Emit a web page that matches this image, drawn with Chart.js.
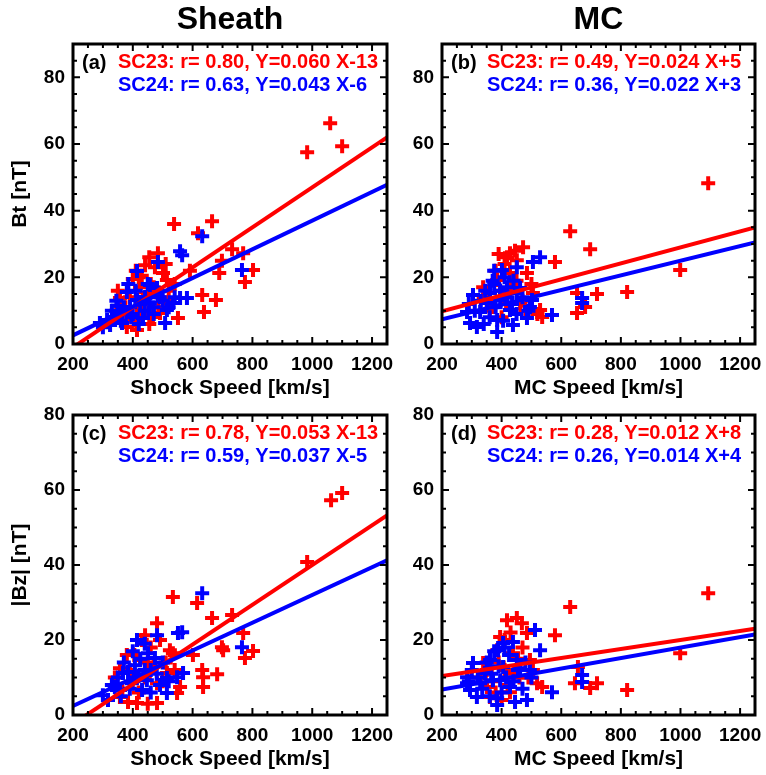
<!DOCTYPE html>
<html>
<head>
<meta charset="utf-8">
<title>Sheath / MC</title>
<script src="https://cdn.jsdelivr.net/npm/chart.js@4.4.1/dist/chart.umd.min.js"></script>
<style>
  html, body { margin: 0; padding: 0; background: #fff; }
  #wrap { position: relative; width: 766px; height: 775px; background: #fff; }
  #wrap canvas { position: absolute; }
</style>
</head>
<body>
<div id="wrap">
  <canvas id="panelA" width="400" height="402" style="left:0;top:0"></canvas>
  <canvas id="panelB" width="366" height="402" style="left:400px;top:0"></canvas>
  <canvas id="panelC" width="400" height="373" style="left:0;top:402px"></canvas>
  <canvas id="panelD" width="366" height="373" style="left:400px;top:402px"></canvas>
</div>
<script>
/* ===============================
   DATA
================================ */
const speedTicks = [200, 400, 600, 800, 1000, 1200];
const fieldTicks = [0, 20, 40, 60, 80];

// (a) Sheath Bt vs shock speed
const aRedX = [1060, 983, 1100, 538, 665, 618, 732, 769, 802, 775, 689, 698, 591, 632, 678, 638, 551, 484, 474, 441, 501, 514, 424, 357, 414, 380, 414, 467, 491, 524, 451, 400, 430, 460, 345, 395, 520, 485,
               350, 365, 390, 405, 420, 440, 455, 470, 495, 510, 455, 430, 375, 540, 410];
const aRedY = [66.2, 57.5, 59.3, 36, 36.8, 33.2, 28.4, 27.2, 22.2, 18.6, 21.3, 25, 22, 14.7, 13.2, 9.6, 7.8, 27.2, 23, 23.6, 21.3, 19.2, 17, 13.8, 11.1, 5.1, 4.2, 8.1, 9.3, 12.3, 15.3, 19.5, 20.5, 18, 10, 8, 16, 11,
               16, 9, 14, 7, 20, 12, 6, 17, 14, 24, 26, 9, 11, 18, 22];
const aBlueX = [632, 558, 565, 484, 414, 765, 380, 457, 481, 581, 558, 534, 314, 324, 364, 434, 508, 514, 391, 357, 414, 441, 290, 334, 457, 400, 470, 500, 350,
                300, 330, 345, 370, 395, 410, 425, 440, 450, 470, 490, 520, 540, 360, 420, 385];
const aBlueY = [32.3, 27.8, 26.6, 24.6, 21.9, 22.2, 15.6, 17.7, 16.8, 13.8, 13.8, 12.3, 7.2, 5.7, 6.3, 7.8, 6.3, 10.2, 11.1, 9.6, 13.2, 14.1, 6.3, 8.1, 12.3, 9, 11, 13, 11.5,
                5, 10, 13, 11, 8, 16, 12, 10, 18, 9, 14, 11, 14, 7, 6, 18];

// (b) MC Bt vs MC speed
const bRedX = [1093, 630, 697, 579, 999, 821, 720, 653, 653, 680, 428, 472, 451, 338, 385, 485, 505, 529, 536, 371, 405, 462, 428, 418, 440, 395, 350,
               340, 360, 380, 400, 410, 430, 450, 470, 480, 500, 415, 390, 445, 520];
const bRedY = [48.2, 33.8, 28.4, 24.6, 22.2, 15.6, 15, 15.3, 9.3, 11.1, 27.2, 29, 25.1, 17, 19.2, 21.3, 15.3, 10.2, 8.1, 11.1, 14.1, 12.3, 21.3, 26, 18, 16, 13,
               14, 10, 22, 8, 24, 16, 19, 13, 10, 18, 12, 27, 28, 9];
const bBlueX = [529, 505, 451, 401, 670, 670, 569, 304, 284, 294, 317, 385, 385, 438, 485, 361, 351, 418, 462, 395, 428, 495, 328, 451, 502, 375, 410, 440,
                290, 310, 330, 345, 360, 370, 380, 395, 405, 420, 435, 450, 470, 490, 340, 375];
const bBlueY = [26, 24.6, 23, 22.2, 13.8, 12.3, 8.7, 14.7, 9.6, 6.3, 5.1, 3.6, 7.2, 5.7, 7.8, 15.3, 12.3, 17, 16.8, 13.2, 10.2, 11.1, 9.6, 15.3, 13.2, 18, 20, 19,
                12, 10, 13, 16, 8, 19, 11, 16, 7, 14, 12, 9, 14, 10, 6, 22];

// (c) Sheath |Bz| vs shock speed
const cRedX = [1063, 1100, 983, 534, 615, 665, 732, 769, 802, 775, 698, 702, 601, 632, 635, 682, 635, 481, 441, 491, 524, 534, 357, 424, 414, 481, 384, 548, 558, 481, 514, 357, 400, 450,
               340, 365, 390, 405, 420, 440, 460, 470, 500, 510, 430, 380, 450, 540];
const cRedY = [57.3, 59.2, 40.8, 31.5, 29.9, 25.9, 26.7, 21.9, 17.1, 15.2, 18.1, 17.3, 16, 12, 10.1, 10.9, 7.5, 24.5, 21.3, 20, 17.3, 16.5, 12.5, 14.7, 3.2, 3.2, 3.5, 5.9, 7.5, 8.5, 11.2, 4.8, 9, 14,
               10, 7, 12, 16, 6, 10, 18, 13, 9, 14, 20, 16, 3, 12];
const cBlueX = [632, 565, 551, 481, 414, 765, 451, 474, 407, 367, 568, 548, 514, 300, 317, 357, 431, 514, 397, 447, 491, 340, 384, 420, 460,
                330, 350, 370, 390, 410, 425, 440, 460, 480, 500, 520, 400, 360, 440];
const cBlueY = [32.5, 22.1, 21.9, 21.3, 20, 18.1, 16.5, 15.2, 13.3, 11.2, 11.2, 10.1, 9.9, 5.3, 4, 6.7, 6.7, 5.9, 8.5, 9.3, 8, 7.5, 11.5, 10.5, 12,
                8, 10, 14, 7, 10, 15, 12, 6, 11, 14, 9, 17, 5, 19];

// (d) MC |Bz| vs MC speed
const dRedX = [1093, 630, 579, 999, 821, 646, 697, 720, 656, 418, 451, 468, 485, 395, 385, 338, 438, 495, 519, 536, 361, 428, 351, 410, 460,
               330, 350, 370, 390, 410, 420, 440, 455, 470, 490, 505, 430, 380, 400];
const dRedY = [32.5, 28.8, 21.3, 16.5, 6.7, 8.5, 7.2, 8.5, 12.8, 25.3, 25.9, 24.5, 21.9, 20.8, 17.3, 13.9, 16.5, 14.7, 8.5, 7.5, 4.8, 6.1, 7.5, 12, 10,
               10, 12, 9, 14, 20, 8, 11, 15, 18, 10, 12, 22, 6, 4];
const dBlueX = [512, 529, 438, 405, 388, 670, 670, 569, 304, 284, 294, 317, 385, 385, 445, 485, 361, 344, 405, 462, 395, 428, 495, 328, 451, 371, 284,
                290, 300, 320, 335, 350, 365, 375, 390, 400, 415, 425, 440, 455, 470, 480, 500, 360, 410];
const dBlueY = [22.7, 17.3, 19.5, 19.2, 17.3, 10.7, 8.8, 6.1, 13.9, 10.1, 6.7, 4.8, 2.7, 4.5, 3.5, 4, 14.7, 11.2, 12.8, 12.5, 9.3, 7.5, 12, 8.5, 14.7, 9.3, 8.5,
                9, 12, 10, 7, 14, 11, 17, 13, 6, 10, 16, 9, 12, 7, 14, 10, 5, 18];

// fits: [r, slope, intercept] for SC23 and SC24
const aFit23 = [0.80, 0.060, -13], aFit24 = [0.63, 0.043, -6];
const bFit23 = [0.49, 0.024, 5],   bFit24 = [0.36, 0.022, 3];
const cFit23 = [0.78, 0.053, -13], cFit24 = [0.59, 0.037, -5];
const dFit23 = [0.28, 0.012, 8],   dFit24 = [0.26, 0.014, 4];

/* ===============================
   HELPERS
================================ */
const RED = "#ff0000";
const BLUE = "#0000ff";
const FONT = "'Liberation Sans', Arial, Helvetica, sans-serif";
const X_MIN = 200, X_MAX = 1250;

const toPoints = (xs, ys) => xs.map((x, i) => ({ x, y: ys[i] }));
const fitLine = fit => [X_MIN, X_MAX].map(x => ({ x, y: fit[1] * x + fit[2] }));
const fitText = (name, fit) =>
  `${name}: r= ${fit[0].toFixed(2)}, Y=${fit[1].toFixed(3)} X${fit[2] >= 0 ? "+" : ""}${fit[2]}`;

// box + inward ticks + panel annotation
const framePlugin = {
  id: "frame",
  afterDraw(chart, args, opts) {
    const { ctx, chartArea: a, scales: { x, y } } = chart;
    ctx.save();
    ctx.strokeStyle = "#000";
    ctx.lineWidth = 2;
    ctx.beginPath();
    for (let v = x.min; v <= x.max + 0.01; v += 50) {
      const px = x.getPixelForValue(v);
      const len = v % 200 === 0 ? 7 : 4;
      ctx.moveTo(px, a.bottom); ctx.lineTo(px, a.bottom - len);
      ctx.moveTo(px, a.top); ctx.lineTo(px, a.top + len);
    }
    for (let v = y.min; v <= y.max + 0.01; v += 5) {
      const py = y.getPixelForValue(v);
      const len = v % 20 === 0 ? 7 : 4;
      ctx.moveTo(a.left, py); ctx.lineTo(a.left + len, py);
      ctx.moveTo(a.right, py); ctx.lineTo(a.right - len, py);
    }
    ctx.stroke();
    ctx.lineWidth = 3;
    ctx.strokeRect(a.left, a.top, a.right - a.left, a.bottom - a.top);

    ctx.font = `bold 20px ${FONT}`;
    ctx.textBaseline = "middle";
    ctx.textAlign = "left";
    ctx.fillStyle = "#000";
    ctx.fillText(opts.label, a.left + 9, a.top + 19);
    ctx.fillStyle = RED;
    ctx.fillText(opts.line1, a.left + 45, a.top + 18);
    ctx.fillStyle = BLUE;
    ctx.fillText(opts.line2, a.left + 45, a.top + 41);
    ctx.restore();
  }
};

function makePanel(id, p) {
  const tickFont = { family: FONT, size: 19, weight: "bold" };
  const titleFont = { family: FONT, size: 21, weight: "bold" };

  new Chart(document.getElementById(id), {
    type: "scatter",
    data: {
      datasets: [
        { type: "line", data: fitLine(p.fit24), borderColor: BLUE, borderWidth: 4, pointRadius: 0, order: 0 },
        { type: "line", data: fitLine(p.fit23), borderColor: RED, borderWidth: 4, pointRadius: 0, order: 1 },
        { data: toPoints(p.blueX, p.blueY), pointStyle: "cross", pointRadius: 7, pointBorderWidth: 4,
          borderColor: BLUE, pointBorderColor: BLUE, order: 2 },
        { data: toPoints(p.redX, p.redY), pointStyle: "cross", pointRadius: 7, pointBorderWidth: 4,
          borderColor: RED, pointBorderColor: RED, order: 3 }
      ]
    },
    options: {
      responsive: false,
      animation: false,
      devicePixelRatio: 1,
      layout: { padding: p.padding },
      plugins: {
        legend: { display: false },
        tooltip: { enabled: false },
        title: {
          display: !!p.title,
          fullSize: false,
          text: p.title || "",
          color: "#000",
          font: { family: FONT, size: 32, weight: "bold", lineHeight: 1 },
          padding: { top: 4, bottom: 8 }
        },
        frame: {
          label: p.label,
          line1: fitText("SC23", p.fit23),
          line2: fitText("SC24", p.fit24)
        }
      },
      scales: {
        x: {
          type: "linear",
          min: X_MIN,
          max: X_MAX,
          afterBuildTicks: s => { s.ticks = speedTicks.map(v => ({ value: v })); },
          afterFit: s => { s.height = 58; s.paddingLeft = 0; s.paddingRight = 0; },
          grid: { display: false, drawTicks: false },
          border: { display: false },
          ticks: { color: "#000", font: tickFont, padding: 9, maxRotation: 0, autoSkip: false, callback: v => String(v) },
          title: { display: true, text: p.xTitle, color: "#000", font: titleFont, padding: { top: 0, bottom: 1 } }
        },
        y: {
          type: "linear",
          min: 0,
          max: p.yMax,
          afterBuildTicks: s => { s.ticks = fieldTicks.map(v => ({ value: v })); },
          afterFit: s => { s.width = p.yWidth; s.paddingTop = 0; s.paddingBottom = 0; },
          grid: { display: false, drawTicks: false },
          border: { display: false },
          ticks: { color: "#000", font: tickFont, padding: 8, autoSkip: false, callback: v => String(v) },
          title: { display: !!p.yTitle, text: p.yTitle || "", color: "#000", font: titleFont, padding: { top: 8, bottom: 0 } }
        }
      }
    },
    plugins: [framePlugin]
  });
}

/* ===============================
   PANELS
================================ */
makePanel("panelA", {
  title: "Sheath", label: "(a)", xTitle: "Shock Speed [km/s]", yTitle: "Bt [nT]",
  yMax: 90, yWidth: 73, padding: { left: 0, right: 13, top: 0, bottom: 0 },
  redX: aRedX, redY: aRedY, blueX: aBlueX, blueY: aBlueY, fit23: aFit23, fit24: aFit24
});

makePanel("panelB", {
  title: "MC", label: "(b)", xTitle: "MC Speed [km/s]",
  yMax: 90, yWidth: 42, padding: { left: 0, right: 11, top: 0, bottom: 0 },
  redX: bRedX, redY: bRedY, blueX: bBlueX, blueY: bBlueY, fit23: bFit23, fit24: bFit24
});

makePanel("panelC", {
  label: "(c)", xTitle: "Shock Speed [km/s]", yTitle: "|Bz| [nT]",
  yMax: 80, yWidth: 73, padding: { left: 0, right: 13, top: 13, bottom: 2 },
  redX: cRedX, redY: cRedY, blueX: cBlueX, blueY: cBlueY, fit23: cFit23, fit24: cFit24
});

makePanel("panelD", {
  label: "(d)", xTitle: "MC Speed [km/s]",
  yMax: 80, yWidth: 42, padding: { left: 0, right: 11, top: 13, bottom: 2 },
  redX: dRedX, redY: dRedY, blueX: dBlueX, blueY: dBlueY, fit23: dFit23, fit24: dFit24
});
</script>
</body>
</html>
